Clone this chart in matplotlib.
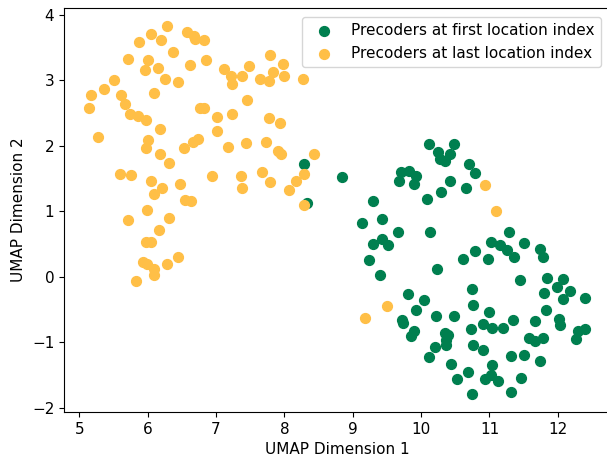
import matplotlib
matplotlib.use("Agg")
import matplotlib.pyplot as plt
import numpy as np

# --- UMAP embedding: precoders at the first location index ---
first_x = [8.29, 8.85, 8.33, 10.12, 10.25, 10.28, 10.35, 10.43, 10.48, 10.70,
           10.79, 9.70, 9.82, 9.92, 9.67, 9.90, 10.43, 10.66, 10.29, 10.08,
           9.30, 9.14, 9.43, 9.66, 10.13, 9.29, 9.43, 9.51, 9.24, 9.40,
           10.23, 10.62, 11.29, 11.02, 11.15, 11.25, 11.36, 11.51, 11.74, 11.78,
           10.79, 10.98, 11.44, 11.84, 11.99, 12.08, 12.18, 12.08, 12.40, 11.80,
           10.75, 10.76, 10.99, 10.48, 11.83, 12.02, 12.03, 10.35, 10.40, 10.37,
           10.36, 10.73, 10.91, 11.04, 11.20, 11.35, 11.66, 11.58, 11.66, 11.78,
           12.29, 12.40, 12.26, 10.76, 10.90, 11.31, 11.50, 11.74, 10.44, 11.03,
           10.68, 10.52, 10.93, 11.02, 11.13, 11.46, 10.75, 11.32, 9.81, 10.04,
           9.93, 9.72, 9.74, 10.22, 9.90, 9.85, 10.21, 10.12]
first_y = [1.72, 1.52, 1.12, 2.02, 1.90, 1.80, 1.77, 1.88, 2.02, 1.72,
           1.58, 1.60, 1.61, 1.54, 1.46, 1.41, 1.46, 1.36, 1.29, 1.19,
           1.16, 0.82, 0.88, 0.69, 0.69, 0.50, 0.58, 0.49, 0.26, 0.03,
           0.12, 0.27, 0.68, 0.53, 0.48, 0.41, 0.31, 0.51, 0.43, 0.31,
           0.40, 0.27, -0.04, -0.02, -0.16, -0.03, -0.22, -0.34, -0.32, -0.25,
           -0.18, -0.43, -0.54, -0.60, -0.51, -0.64, -0.73, -0.85, -0.88, -0.96,
           -1.04, -0.80, -0.72, -0.78, -0.78, -0.66, -0.67, -0.93, -0.97, -0.93,
           -0.82, -0.79, -0.95, -1.04, -1.12, -1.20, -1.19, -1.28, -1.33, -1.34,
           -1.45, -1.55, -1.55, -1.49, -1.59, -1.54, -1.78, -1.75, -0.26, -0.35,
           -0.51, -0.66, -0.71, -0.59, -0.83, -0.90, -1.07, -1.22]

# --- UMAP embedding: precoders at the last location index ---
last_x = [6.29, 6.05, 5.88, 6.19, 6.57, 6.68, 6.70, 6.82, 6.37, 5.72,
          6.00, 5.96, 6.15, 6.62, 6.85, 7.12, 7.22, 7.24, 7.38, 5.51,
          6.25, 6.45, 5.36, 5.17, 5.61, 6.09, 5.14, 5.67, 5.74, 5.86,
          5.98, 6.76, 6.82, 7.01, 7.24, 6.18, 7.01, 5.28, 6.00, 5.97,
          6.53, 6.66, 6.74, 7.17, 6.18, 6.32, 7.79, 7.98, 7.48, 7.64,
          7.78, 7.83, 7.99, 8.27, 7.46, 7.77, 7.94, 7.44, 7.73, 7.90,
          7.95, 8.43, 8.29, 5.59, 5.76, 6.05, 6.21, 6.10, 6.47, 6.94,
          7.36, 7.38, 7.67, 7.79, 8.17, 8.07, 8.29, 6.55, 6.63, 5.99,
          5.71, 6.31, 6.17, 5.98, 6.05, 5.93, 5.99, 6.09, 6.09, 6.29,
          6.45, 5.83, 10.93, 11.09, 9.50, 9.18]
last_y = [3.82, 3.70, 3.58, 3.61, 3.73, 3.68, 3.62, 3.61, 3.43, 3.32,
          3.31, 3.15, 3.19, 3.23, 3.31, 3.17, 3.07, 2.94, 3.06, 3.00,
          3.01, 2.97, 2.86, 2.78, 2.78, 2.80, 2.58, 2.63, 2.49, 2.45,
          2.39, 2.58, 2.57, 2.44, 2.48, 2.25, 2.23, 2.14, 2.08, 1.96,
          1.97, 2.05, 2.10, 1.98, 1.87, 1.74, 3.38, 3.25, 3.21, 3.01,
          2.98, 3.12, 3.07, 3.02, 2.69, 2.43, 2.35, 2.04, 2.05, 1.92,
          1.88, 1.87, 1.57, 1.57, 1.56, 1.46, 1.36, 1.26, 1.41, 1.54,
          1.54, 1.36, 1.60, 1.45, 1.46, 1.33, 1.09, 1.17, 1.16, 1.02,
          0.86, 0.90, 0.72, 0.53, 0.53, 0.22, 0.20, 0.12, 0.03, 0.19,
          0.30, -0.07, 1.40, 1.01, -0.44, -0.63]

labels = ["Precoders at first location index", "Precoders at last location index"]
green = "#007F4F"
orange = "#FFBF47"

plt.rcParams["font.size"] = 11

fig = plt.figure(figsize=(6.07, 4.58), dpi=100)
ax = fig.add_axes([64 / 607, 46 / 458, 546 / 607, 404 / 458])

ax.scatter(first_x, first_y, s=50, color=green, label=labels[0])
ax.scatter(last_x, last_y, s=50, color=orange, label=labels[1])

ax.set_xlabel("UMAP Dimension 1")
ax.set_ylabel("UMAP Dimension 2")
ax.set_xticks(np.arange(5, 13))
ax.set_yticks(np.arange(-2, 5))
ax.legend(loc="upper right", borderaxespad=0.6)

fig.savefig("out.png", dpi=100)
